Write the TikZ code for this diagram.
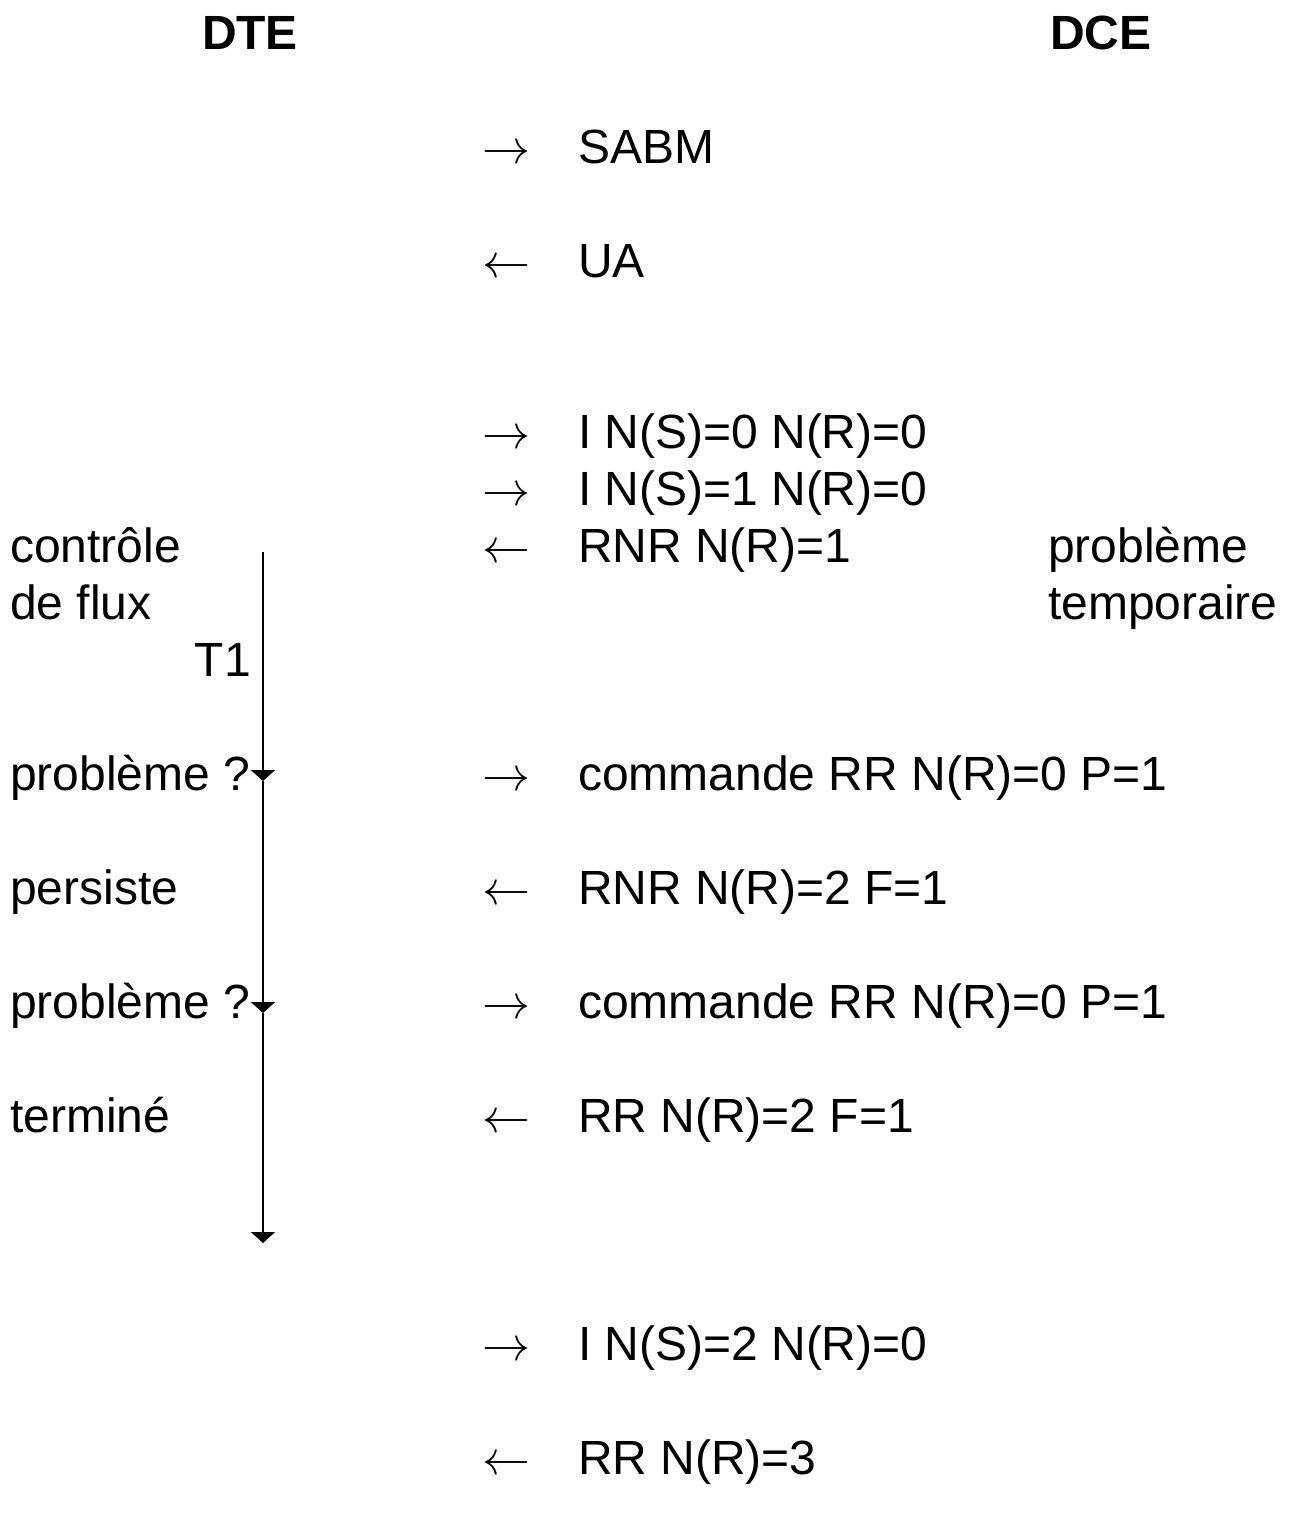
\RequirePackage{fix-cm}
\documentclass[tikz,border=0pt]{standalone}
\usepackage{fontspec}
\setmainfont{Liberation Sans}
\usetikzlibrary{arrows.meta}
\begin{document}
\begin{tikzpicture}[x=1pt,y=-1pt,
  txt/.style={anchor=base west,inner sep=0pt,outer sep=0pt,font=\fontsize{48}{57}\selectfont},
  hdr/.style={anchor=base,inner sep=0pt,font=\fontsize{48}{57}\selectfont\bfseries},
  arr/.style={anchor=base west,inner sep=0pt,font=\fontsize{48}{57}\selectfont},
  timer/.style={line width=1.8pt,-{Triangle[width=24pt,length=11pt]}}]
\useasboundingbox (0,0) rectangle (1289,1535);
% headers
\node[hdr] (dte) at (250,49) {DTE};
\node[hdr] (dce) at (1101,49) {DCE};
% arrows column
\node[arr] (a1) at (482,163) {$\rightarrow$};
\node[arr] (a2) at (482,277) {$\leftarrow$};
\node[arr] (a3) at (482,448) {$\rightarrow$};
\node[arr] (a4) at (482,505) {$\rightarrow$};
\node[arr] (a5) at (482,562) {$\leftarrow$};
\node[arr] (a6) at (482,790) {$\rightarrow$};
\node[arr] (a7) at (482,904) {$\leftarrow$};
\node[arr] (a8) at (482,1018) {$\rightarrow$};
\node[arr] (a9) at (482,1132) {$\leftarrow$};
\node[arr] (a10) at (482,1360) {$\rightarrow$};
\node[arr] (a11) at (482,1474) {$\leftarrow$};
% messages
\node[txt] (m1) at (578,163) {SABM};
\node[txt] (m2) at (578,277) {UA};
\node[txt] (m3) at (578,448) {I N(S)=0 N(R)=0};
\node[txt] (m4) at (578,505) {I N(S)=1 N(R)=0};
\node[txt] (m5) at (578,562) {RNR N(R)=1};
\node[txt] (m6) at (578,790) {commande RR N(R)=0 P=1};
\node[txt] (m7) at (578,904) {RNR N(R)=2 F=1};
\node[txt] (m8) at (578,1018) {commande RR N(R)=0 P=1};
\node[txt] (m9) at (578,1132) {RR N(R)=2 F=1};
\node[txt] (m10) at (578,1360) {I N(S)=2 N(R)=0};
\node[txt] (m11) at (578,1474) {RR N(R)=3};
% right column
\node[txt] (r1) at (1048,562) {problème};
\node[txt] (r2) at (1048,619) {temporaire};
% left column
\node[txt] (l1) at (10,562) {contrôle};
\node[txt] (l2) at (10,619) {de flux};
\node[txt,anchor=base east] (t1) at (251,676) {T1};
\node[txt] (l3) at (10,790) {problème ?};
\node[txt] (l4) at (10,904) {persiste};
\node[txt] (l5) at (10,1018) {problème ?};
\node[txt] (l6) at (10,1132) {terminé};
% timer line
\coordinate (v0) at (263,552);
\coordinate (v1) at (263,781);
\coordinate (v2) at (263,1013);
\coordinate (v3) at (263,1243);
\draw[timer] (v0) -- (v1);
\draw[timer] (v1) -- (v2);
\draw[timer] (v2) -- (v3);
\end{tikzpicture}
\end{document}
